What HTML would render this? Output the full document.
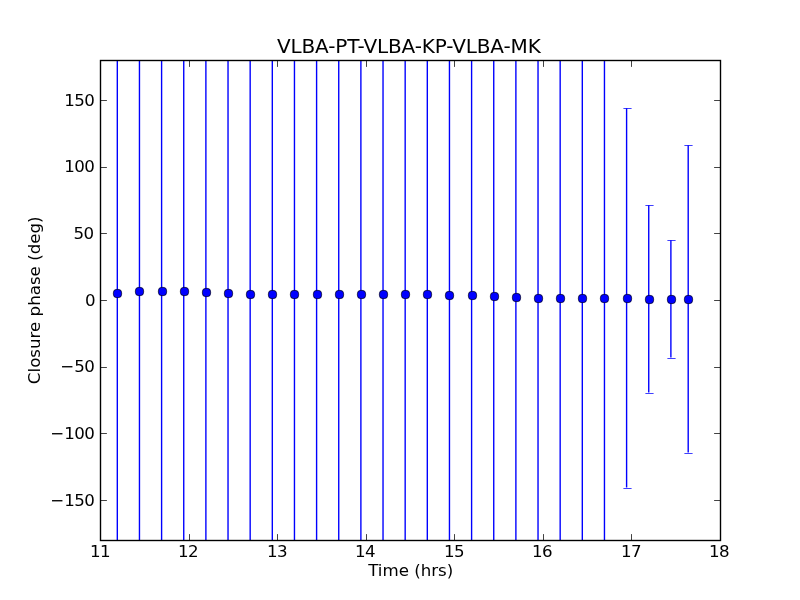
<!DOCTYPE html>
<html><head><meta charset="utf-8"><title>VLBA-PT-VLBA-KP-VLBA-MK</title>
<style>
html,body{margin:0;padding:0;background:#fff;}
body{width:800px;height:600px;overflow:hidden;}
svg{display:block;}
text{font-family:"DejaVu Sans","Liberation Sans",sans-serif;fill:#000;}
.t{font-size:16.67px;}
</style></head><body>
<svg width="800" height="600" viewBox="0 0 800 600">
<rect width="800" height="600" fill="#fff"/>
<defs><clipPath id="c"><rect x="100" y="60" width="621" height="481"/></clipPath></defs>
<g clip-path="url(#c)" stroke="#0000ff" stroke-width="1.39" fill="none">
<line x1="117.31" y1="0" x2="117.31" y2="600"/>
<line x1="139.46" y1="0" x2="139.46" y2="600"/>
<line x1="161.60" y1="0" x2="161.60" y2="600"/>
<line x1="183.74" y1="0" x2="183.74" y2="600"/>
<line x1="205.89" y1="0" x2="205.89" y2="600"/>
<line x1="228.03" y1="0" x2="228.03" y2="600"/>
<line x1="250.17" y1="0" x2="250.17" y2="600"/>
<line x1="272.31" y1="0" x2="272.31" y2="600"/>
<line x1="294.46" y1="0" x2="294.46" y2="600"/>
<line x1="316.60" y1="0" x2="316.60" y2="600"/>
<line x1="338.74" y1="0" x2="338.74" y2="600"/>
<line x1="360.89" y1="0" x2="360.89" y2="600"/>
<line x1="383.03" y1="0" x2="383.03" y2="600"/>
<line x1="405.17" y1="0" x2="405.17" y2="600"/>
<line x1="427.31" y1="0" x2="427.31" y2="600"/>
<line x1="449.46" y1="0" x2="449.46" y2="600"/>
<line x1="471.60" y1="0" x2="471.60" y2="600"/>
<line x1="493.74" y1="0" x2="493.74" y2="600"/>
<line x1="515.89" y1="0" x2="515.89" y2="600"/>
<line x1="538.03" y1="0" x2="538.03" y2="600"/>
<line x1="560.17" y1="0" x2="560.17" y2="600"/>
<line x1="582.31" y1="0" x2="582.31" y2="600"/>
<line x1="604.46" y1="0" x2="604.46" y2="600"/>
<line x1="626.60" y1="108.2" x2="626.60" y2="487.5"/>
<line x1="648.74" y1="205.2" x2="648.74" y2="392.5"/>
<line x1="670.89" y1="240.2" x2="670.89" y2="357.5"/>
<line x1="688.20" y1="145.2" x2="688.20" y2="452.5"/>
</g>
<g stroke="#0000ff" stroke-width="0.75" fill="none">
<line x1="623.40" y1="108.5" x2="631.60" y2="108.5"/>
<line x1="623.40" y1="488.5" x2="631.60" y2="488.5"/>
<line x1="645.40" y1="205.5" x2="653.60" y2="205.5"/>
<line x1="645.40" y1="393.5" x2="653.60" y2="393.5"/>
<line x1="667.40" y1="240.5" x2="675.60" y2="240.5"/>
<line x1="667.40" y1="358.5" x2="675.60" y2="358.5"/>
<line x1="684.40" y1="145.5" x2="692.60" y2="145.5"/>
<line x1="684.40" y1="453.5" x2="692.60" y2="453.5"/>
</g>
<g fill="#0000ff" stroke="#000" stroke-width="0.66">
<rect x="113.35" y="289.35" width="8.3" height="8.3" rx="3.5"/>
<rect x="135.35" y="287.35" width="8.3" height="8.3" rx="3.5"/>
<rect x="158.35" y="287.35" width="8.3" height="8.3" rx="3.5"/>
<rect x="180.35" y="287.35" width="8.3" height="8.3" rx="3.5"/>
<rect x="202.35" y="288.35" width="8.3" height="8.3" rx="3.5"/>
<rect x="224.35" y="289.35" width="8.3" height="8.3" rx="3.5"/>
<rect x="246.35" y="290.35" width="8.3" height="8.3" rx="3.5"/>
<rect x="268.35" y="290.35" width="8.3" height="8.3" rx="3.5"/>
<rect x="290.35" y="290.35" width="8.3" height="8.3" rx="3.5"/>
<rect x="313.35" y="290.35" width="8.3" height="8.3" rx="3.5"/>
<rect x="335.35" y="290.35" width="8.3" height="8.3" rx="3.5"/>
<rect x="357.35" y="290.35" width="8.3" height="8.3" rx="3.5"/>
<rect x="379.35" y="290.35" width="8.3" height="8.3" rx="3.5"/>
<rect x="401.35" y="290.35" width="8.3" height="8.3" rx="3.5"/>
<rect x="423.35" y="290.35" width="8.3" height="8.3" rx="3.5"/>
<rect x="445.35" y="291.35" width="8.3" height="8.3" rx="3.5"/>
<rect x="468.35" y="291.35" width="8.3" height="8.3" rx="3.5"/>
<rect x="490.35" y="292.35" width="8.3" height="8.3" rx="3.5"/>
<rect x="512.35" y="293.35" width="8.3" height="8.3" rx="3.5"/>
<rect x="534.35" y="294.35" width="8.3" height="8.3" rx="3.5"/>
<rect x="556.35" y="294.35" width="8.3" height="8.3" rx="3.5"/>
<rect x="578.35" y="294.35" width="8.3" height="8.3" rx="3.5"/>
<rect x="600.35" y="294.35" width="8.3" height="8.3" rx="3.5"/>
<rect x="623.35" y="294.35" width="8.3" height="8.3" rx="3.5"/>
<rect x="645.35" y="295.35" width="8.3" height="8.3" rx="3.5"/>
<rect x="667.35" y="295.35" width="8.3" height="8.3" rx="3.5"/>
<rect x="684.35" y="295.35" width="8.3" height="8.3" rx="3.5"/>
</g>
<g stroke="#000" stroke-width="0.74">
<line x1="100.50" y1="540.5" x2="100.50" y2="534.1"/>
<line x1="100.50" y1="60.5" x2="100.50" y2="66.9"/>
<line x1="189.50" y1="540.5" x2="189.50" y2="534.1"/>
<line x1="189.50" y1="60.5" x2="189.50" y2="66.9"/>
<line x1="277.50" y1="540.5" x2="277.50" y2="534.1"/>
<line x1="277.50" y1="60.5" x2="277.50" y2="66.9"/>
<line x1="366.50" y1="540.5" x2="366.50" y2="534.1"/>
<line x1="366.50" y1="60.5" x2="366.50" y2="66.9"/>
<line x1="454.50" y1="540.5" x2="454.50" y2="534.1"/>
<line x1="454.50" y1="60.5" x2="454.50" y2="66.9"/>
<line x1="543.50" y1="540.5" x2="543.50" y2="534.1"/>
<line x1="543.50" y1="60.5" x2="543.50" y2="66.9"/>
<line x1="631.50" y1="540.5" x2="631.50" y2="534.1"/>
<line x1="631.50" y1="60.5" x2="631.50" y2="66.9"/>
<line x1="720.50" y1="540.5" x2="720.50" y2="534.1"/>
<line x1="720.50" y1="60.5" x2="720.50" y2="66.9"/>
<line x1="100.5" y1="500.50" x2="106.9" y2="500.50"/>
<line x1="720.5" y1="500.50" x2="714.1" y2="500.50"/>
<line x1="100.5" y1="433.50" x2="106.9" y2="433.50"/>
<line x1="720.5" y1="433.50" x2="714.1" y2="433.50"/>
<line x1="100.5" y1="367.50" x2="106.9" y2="367.50"/>
<line x1="720.5" y1="367.50" x2="714.1" y2="367.50"/>
<line x1="100.5" y1="300.50" x2="106.9" y2="300.50"/>
<line x1="720.5" y1="300.50" x2="714.1" y2="300.50"/>
<line x1="100.5" y1="233.50" x2="106.9" y2="233.50"/>
<line x1="720.5" y1="233.50" x2="714.1" y2="233.50"/>
<line x1="100.5" y1="167.50" x2="106.9" y2="167.50"/>
<line x1="720.5" y1="167.50" x2="714.1" y2="167.50"/>
<line x1="100.5" y1="100.50" x2="106.9" y2="100.50"/>
<line x1="720.5" y1="100.50" x2="714.1" y2="100.50"/>
</g>
<rect x="100.5" y="60.5" width="620" height="480" fill="none" stroke="#000" stroke-width="1.39"/>
<text class="t" x="90.1 100.1" y="557">11</text>
<text class="t" x="178.1 188.1" y="557">12</text>
<text class="t" x="267.1 277.1" y="557">13</text>
<text class="t" x="355.1 365.1" y="557">14</text>
<text class="t" x="444.1 454.1" y="557">15</text>
<text class="t" x="532.1 542.1" y="557">16</text>
<text class="t" x="621.1 631.1" y="557">17</text>
<text class="t" x="709.1 719.1" y="557">18</text>
<text class="t" x="50.3 64.3 74.3 84.3" y="506">−150</text>
<text class="t" x="50.3 64.3 74.3 84.3" y="439">−100</text>
<text class="t" x="60.3 74.3 84.3" y="372">−50</text>
<text class="t" x="85.1" y="306">0</text>
<text class="t" x="73.4 83.4" y="239">50</text>
<text class="t" x="64.3 74.3 84.3" y="172">100</text>
<text class="t" x="64.3 74.3 84.3" y="106">150</text>
<text x="276.9" y="52.9" font-size="20px" textLength="263.9" lengthAdjust="spacing">VLBA-PT-VLBA-KP-VLBA-MK</text>
<text class="t" x="410.7" y="575.7" text-anchor="middle">Time (hrs)</text>
<text class="t" transform="translate(40.2,300.3) rotate(-90)" text-anchor="middle">Closure phase (deg)</text>
</svg></body></html>
